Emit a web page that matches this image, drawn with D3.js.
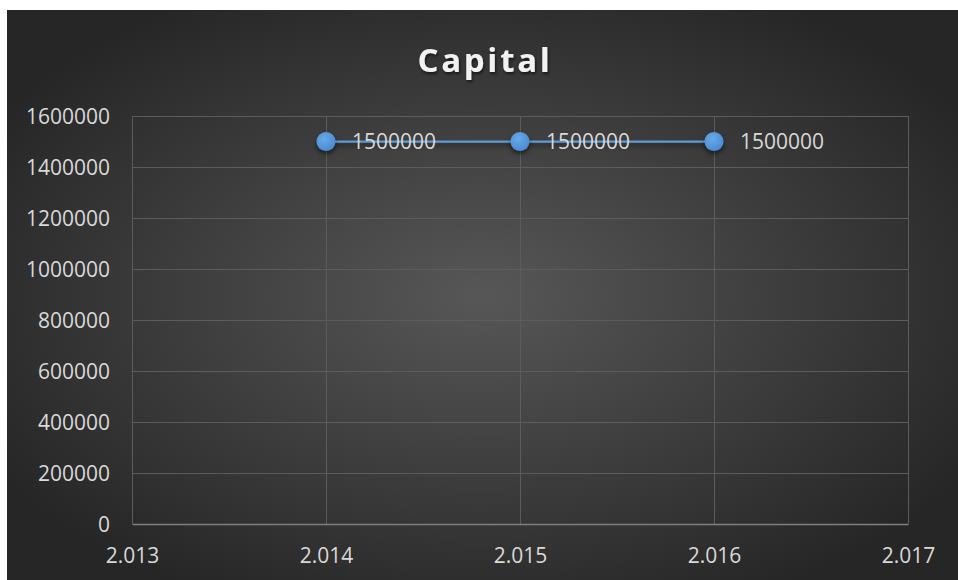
<!DOCTYPE html>
<html>
<head>
<meta charset="utf-8">
<script src="https://cdn.jsdelivr.net/npm/d3@7"></script>
<style>
  html, body { margin: 0; padding: 0; background: #fff; }
  svg { display: block; }
</style>
</head>
<body>
<svg width="958" height="580"></svg>
<script>
var title = "Capital";
var years = [2.014, 2.015, 2.016];
var capital = [1500000, 1500000, 1500000];
var xTicks = [2.013, 2.014, 2.015, 2.016, 2.017];
var yTicks = [0, 200000, 400000, 600000, 800000, 1000000, 1200000, 1400000, 1600000];

var svg = d3.select("svg");
var defs = svg.append("defs");

var grad = defs.append("radialGradient")
    .attr("id", "bg")
    .attr("cx", "50%").attr("cy", "50%").attr("r", "60%");
grad.append("stop").attr("offset", "0%").attr("stop-color", "#575757");
grad.append("stop").attr("offset", "100%").attr("stop-color", "#262626");

var shadow = defs.append("filter")
    .attr("id", "shadow")
    .attr("filterUnits", "userSpaceOnUse")
    .attr("x", 0).attr("y", 0).attr("width", 958).attr("height", 580);
shadow.append("feDropShadow")
    .attr("dx", 0).attr("dy", 3).attr("stdDeviation", 2.5)
    .attr("flood-color", "#000").attr("flood-opacity", 0.55);

var titleShadow = defs.append("filter").attr("id", "tshadow");
titleShadow.append("feDropShadow")
    .attr("dx", 1).attr("dy", 2).attr("stdDeviation", 1.5)
    .attr("flood-color", "#000").attr("flood-opacity", 0.6);

var dotGrad = defs.append("radialGradient")
    .attr("id", "dot").attr("cx", "40%").attr("cy", "35%").attr("r", "65%");
dotGrad.append("stop").attr("offset", "0%").attr("stop-color", "#6aa8e6");
dotGrad.append("stop").attr("offset", "100%").attr("stop-color", "#4a8cd6");

// chart area (white margin at top and left)
svg.append("rect")
    .attr("x", 7).attr("y", 10)
    .attr("width", 951).attr("height", 570)
    .attr("fill", "url(#bg)");

var x = d3.scaleLinear().domain([2.013, 2.017]).range([132, 908]);
var y = d3.scaleLinear().domain([0, 1600000]).range([524, 116]);

var font = "'Open Sans', sans-serif";

// gridlines
svg.append("g")
    .selectAll("line")
    .data(yTicks.slice(1))
    .join("line")
    .attr("x1", 132).attr("x2", 908)
    .attr("y1", d => y(d) + 0.5).attr("y2", d => y(d) + 0.5)
    .attr("stroke", "#5c5c5c").attr("stroke-width", 1);

svg.append("g")
    .selectAll("line")
    .data(xTicks)
    .join("line")
    .attr("x1", d => x(d) + 0.5).attr("x2", d => x(d) + 0.5)
    .attr("y1", 116).attr("y2", 524)
    .attr("stroke", "#5c5c5c").attr("stroke-width", 1);

// bottom axis
var xAxis = svg.append("g")
    .attr("transform", "translate(0,524)")
    .call(d3.axisBottom(x).tickValues(xTicks).tickSize(0).tickFormat(d3.format(".3f")));
xAxis.select(".domain").attr("stroke", "#7f7f7f").attr("stroke-width", 1.5);
xAxis.selectAll("text")
    .attr("dy", 0).attr("y", 39)
    .attr("fill", "#d9d9d9")
    .style("font-family", font).style("font-size", "21px");

// left axis
var yAxis = svg.append("g")
    .attr("transform", "translate(132,0)")
    .call(d3.axisLeft(y).tickValues(yTicks).tickSize(0).tickFormat(d3.format("d")));
yAxis.select(".domain").remove();
yAxis.selectAll("text")
    .attr("x", -22).attr("dy", "0.35em")
    .attr("fill", "#d9d9d9")
    .style("font-family", font).style("font-size", "21px");

// title
svg.append("text")
    .attr("x", 485).attr("y", 72)
    .attr("text-anchor", "middle")
    .attr("fill", "#f2f2f2")
    .attr("filter", "url(#tshadow)")
    .style("font-family", font).style("font-size", "33px")
    .style("font-weight", "bold").style("letter-spacing", "2.7px")
    .text(title);

var data = years.map((d, i) => ({x: d, y: capital[i]}));

var line = d3.line().x(d => x(d.x)).y(d => y(d.y));
svg.append("path")
    .datum(data)
    .attr("d", line)
    .attr("fill", "none")
    .attr("stroke", "#5b9bd5")
    .attr("stroke-width", 2.25)
    .attr("filter", "url(#shadow)");

svg.append("g")
    .selectAll("circle")
    .data(data)
    .join("circle")
    .attr("cx", d => x(d.x))
    .attr("cy", d => y(d.y))
    .attr("r", 9.5)
    .attr("fill", "url(#dot)")
    .attr("filter", "url(#shadow)");

svg.append("g")
    .selectAll("text")
    .data(data)
    .join("text")
    .attr("x", d => x(d.x) + 26)
    .attr("y", d => y(d.y))
    .attr("dy", "0.35em")
    .attr("fill", "#d9d9d9")
    .style("font-family", font).style("font-size", "21px")
    .text(d => d.y);
</script>
</body>
</html>
